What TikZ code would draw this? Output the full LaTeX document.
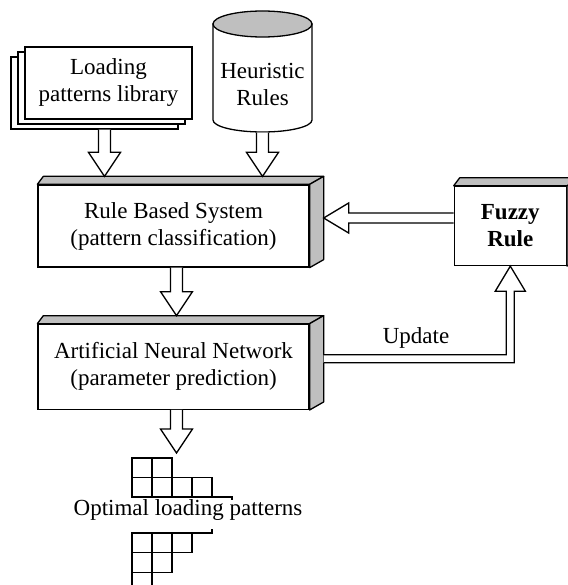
\documentclass[tikz,border=0pt]{standalone}
\usepackage{fontspec}
\setmainfont{Liberation Serif}
\usetikzlibrary{positioning,shadows,calc}

\newcommand{\blockdown}[2]{%
  \draw[blockarrow] let \p1=(#1), \p2=(#2) in
    (\x1-6pt,\y1) -- (\x1-6pt,\y2+24pt) -- (\x1-16pt,\y2+24pt) -- (\x1,\y2)
    -- (\x1+16pt,\y2+24pt) -- (\x1+6pt,\y2+24pt) -- (\x1+6pt,\y1);}
\newcommand{\boxfaces}[1]{%
  \draw[face] (#1.north west) -- ++(6pt,8pt) -- ([shift={(14pt,8pt)}]#1.north east) -- (#1.north east) -- cycle;
  \draw[face] (#1.north east) -- ++(14pt,8pt) -- ([shift={(14pt,8pt)}]#1.south east) -- (#1.south east) -- cycle;}

\begin{document}
\begin{tikzpicture}[x=1pt, y=-1pt, line width=1.3pt,
        font=\fontsize{23}{27}\selectfont,
        box/.style={draw, fill=white, align=center},
        face/.style={draw=black, fill=gray!50, line join=round},
        blockarrow/.style={draw, fill=white, line join=miter},
        node distance=56pt
    ]
        \useasboundingbox (0,0) rectangle (567,585);

        \node[box, double copy shadow={shadow xshift=-7pt, shadow yshift=-5pt},
              minimum width=167pt, minimum height=72pt] (lib) at (108.5,83) {Loading\\patterns library};

        \coordinate (heurc) at (262.5,84.5);
        \draw[fill=white] ($(heurc)+(-49.5,35.5)$) -- ($(heurc)+(-49.5,-60.5)$)
            -- ($(heurc)+(49.5,-60.5)$) -- ($(heurc)+(49.5,35.5)$)
            arc[start angle=0, end angle=-180, x radius=49.5pt, y radius=12pt] -- cycle;
        \fill[gray!50] (262.5,24) ellipse [x radius=49.5pt, y radius=13pt];
        \draw (262.5,24) ellipse [x radius=49.5pt, y radius=13pt];
        \node[align=center, minimum width=99pt, minimum height=95pt] (heur) at (heurc) {Heuristic\\Rules};

        \node[box, minimum width=271pt, minimum height=82pt] (rbs) at (173.5,226) {Rule Based System\\(pattern classification)};
        \node[box, minimum width=271pt, minimum height=85pt, below=of rbs] (ann) {Artificial Neural Network\\(parameter prediction)};
        \node[box, font=\fontsize{23}{27}\selectfont\bfseries, minimum width=112pt, minimum height=79pt,
              right=144pt of rbs] (fuzzy) {Fuzzy\\Rule};
        \boxfaces{rbs}
        \boxfaces{ann}
        \boxfaces{fuzzy}

        \blockdown{[shift={(-4pt,-10pt)}]lib.south}{[yshift=8pt]rbs.north}
        \blockdown{heur.south}{[yshift=8pt]rbs.north}
        \blockdown{[xshift=3pt]rbs.south}{[yshift=8pt]ann.north}
        \coordinate (pat) at (132,458);
        \blockdown{[xshift=3pt]ann.south}{[yshift=5pt]pat}

        \draw[blockarrow] let \p1=(fuzzy.west), \p2=([shift={(14pt,8pt)}]rbs.east) in
            (\x1,\y2+5pt) -- (\x2+25pt,\y2+5pt) -- (\x2+25pt,\y2+15pt) -- (\x2,\y2)
            -- (\x2+25pt,\y2-15pt) -- (\x2+25pt,\y2-5pt) -- (\x1,\y2-5pt);
        \draw[blockarrow] let \p1=([shift={(14pt,8pt)}]ann.east), \p2=(fuzzy.south) in
            (\x1,\y1+4pt) -- (\x2-4pt,\y1+4pt) -- (\x2-4pt,\y2-25pt) -- (\x2-15pt,\y2-25pt) -- (\x2,\y2)
            -- (\x2+15pt,\y2-25pt) -- (\x2+4pt,\y2-25pt) -- (\x2+4pt,\y1-4pt) -- (\x1,\y1-4pt);
        \node (upd) at (416,338) {Update};

        \foreach \n [count=\r from 0] in {2,4}
            \foreach \c in {1,...,\n}
                \draw (112+20*\c,458+19.5*\r) rectangle ++(20,19.5);
        \draw (132,497) -- (232,497) -- (232,500);
        \node (opt) at (188,510) {Optimal loading patterns};
        \foreach \n [count=\r from 0] in {3,2,1}
            \foreach \c in {1,...,\n}
                \draw (112+20*\c,533+19.7*\r) rectangle ++(20,19.7);
        \draw (192,533) -- (212,533) -- (212,529);
    \end{tikzpicture}
\end{document}
